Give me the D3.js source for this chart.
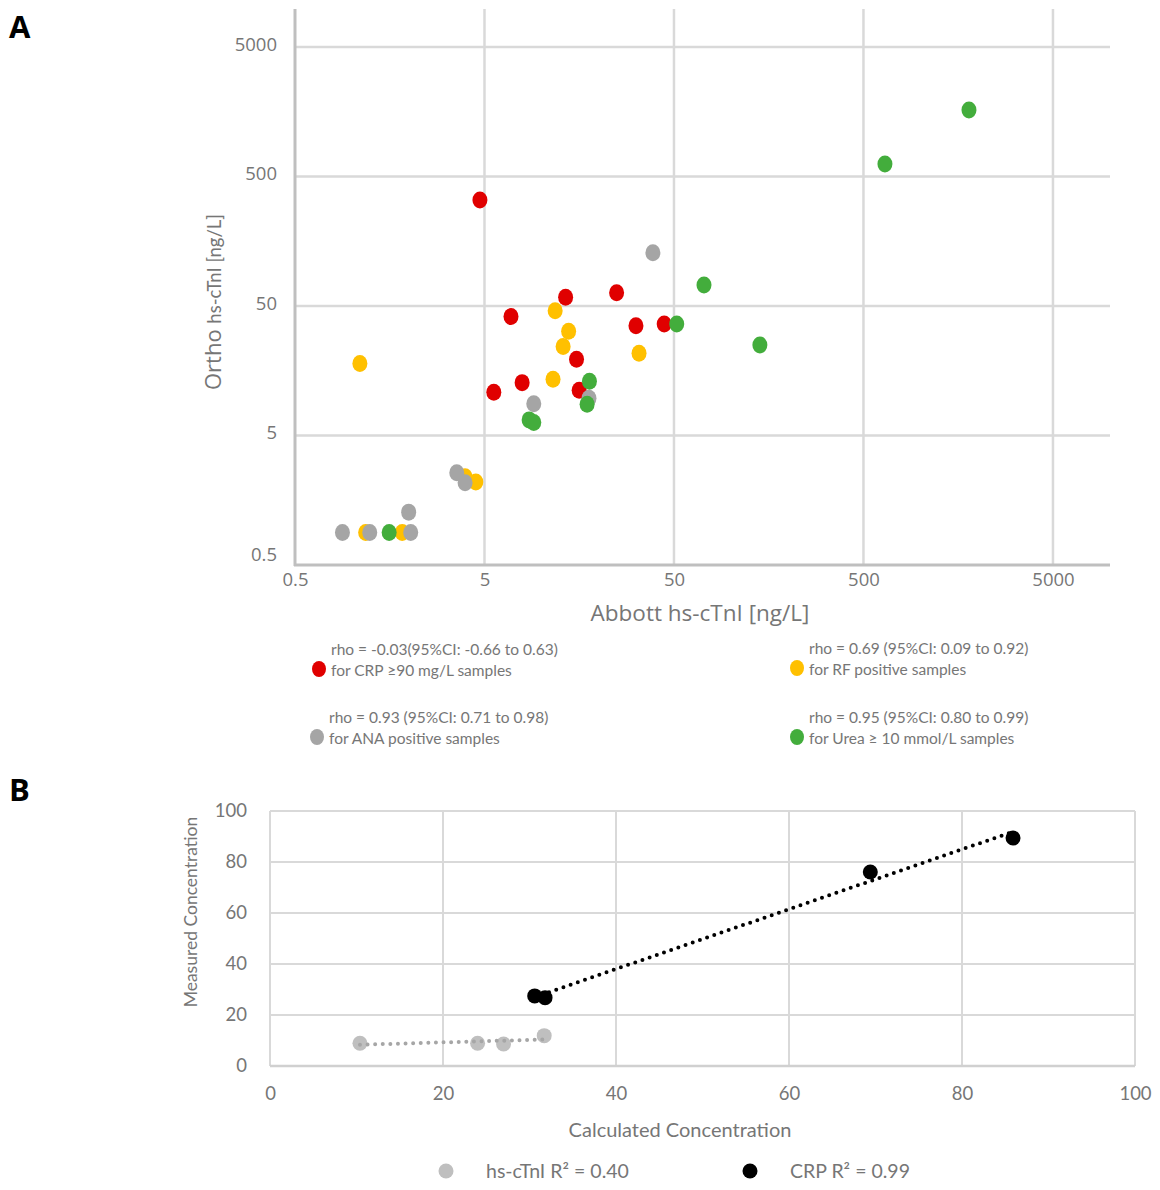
<!DOCTYPE html>
<html>
<head>
<meta charset="utf-8">
<script src="https://cdn.jsdelivr.net/npm/d3@7"></script>
<style>
  body { margin: 0; background: #fff; }
  text { font-family: Lato, "Open Sans", sans-serif; }
</style>
</head>
<body>
<script>
// panel A values (log-log)
var aTicks = [0.5, 5, 50, 500, 5000];
var aGrid = [5, 50, 500, 5000];

var crpX = [4.73, 13.4, 24.9, 6.9, 31.5, 44.4, 15.3, 7.9, 5.6, 15.8];
var crpY = [329, 58.4, 63.4, 41.4, 35.2, 36.3, 19.4, 12.8, 10.8, 11.2];
var rfX = [1.1, 11.8, 13.9, 13.0, 32.7, 11.5, 4.5, 3.95, 1.18, 1.84];
var rfY = [18.0, 46, 31.9, 24.3, 21.6, 13.6, 2.19, 2.4, 0.89, 0.89];
var anaX = [38.7, 9.1, 17.8, 3.57, 3.95, 1.99, 0.89, 1.24, 2.04];
var anaY = [129, 8.8, 9.7, 2.58, 2.16, 1.28, 0.89, 0.89, 0.89];
var ureaX = [72, 51.7, 17.9, 17.4, 8.6, 9.1, 1.57, 142, 649, 1802];
var ureaY = [72.6, 36.3, 13.1, 8.7, 6.6, 6.3, 0.89, 25, 625, 1632];

var aLegendTop = ['rho = -0.03(95%CI: -0.66 to 0.63)', 'rho = 0.69 (95%CI: 0.09 to 0.92)',
                  'rho = 0.93 (95%CI: 0.71 to 0.98)', 'rho = 0.95 (95%CI: 0.80 to 0.99)'];
var aLegendBottom = ['for CRP \u226590 mg/L samples', 'for RF positive samples',
                     'for ANA positive samples', 'for Urea \u2265 10 mmol/L samples'];
var aColors = ['#e00000', '#ffc000', '#a5a5a5', '#43ad3c'];

// panel B values (linear)
var bTicks = [0, 20, 40, 60, 80, 100];
var tnX = [10.4, 24.0, 27.0, 31.7];
var tnY = [8.9, 8.9, 8.6, 11.9];
var crpCalcX = [30.6, 31.8, 69.4, 85.9];
var crpMeasY = [27.5, 26.8, 76.1, 89.4];
var bLegend = ['hs-cTnI R\u00b2 = 0.40', 'CRP R\u00b2 = 0.99'];
var bColors = ['#bfbfbf', '#000000'];

var svg = d3.select('body').append('svg')
  .attr('width', 1160)
  .attr('height', 1190);

// ---------- A ----------
var xA = d3.scaleLog().domain([0.5, 10000]).range([295, 1110]);
var yA = d3.scaleLog().domain([0.5, 10000]).range([565, 8]);

svg.append('text').attr('x', 9).attr('y', 38)
  .style('font-family', '"Open Sans", sans-serif')
  .style('font-weight', 700).style('font-size', '31px').text('A');

var gA = svg.append('g');

gA.selectAll('line.vgrid').data(aGrid).enter().append('line')
  .attr('class', 'vgrid')
  .attr('x1', function(d) { return xA(d); }).attr('x2', function(d) { return xA(d); })
  .attr('y1', 9).attr('y2', 565)
  .style('stroke', '#d9d9d9').style('stroke-width', 2.5);

gA.selectAll('line.hgrid').data(aGrid).enter().append('line')
  .attr('class', 'hgrid')
  .attr('y1', function(d) { return yA(d); }).attr('y2', function(d) { return yA(d); })
  .attr('x1', 295).attr('x2', 1110)
  .style('stroke', '#d9d9d9').style('stroke-width', 2.5);

// axes (d3 axis, then restyled to look like excel)
var axAx = gA.append('g').attr('transform', 'translate(0,565)')
  .call(d3.axisBottom(xA).tickValues(aTicks).tickFormat(d3.format('')).tickSize(0).tickPadding(8));
var axAy = gA.append('g').attr('transform', 'translate(295,0)')
  .call(d3.axisLeft(yA).tickValues(aTicks).tickFormat(d3.format('')).tickSize(0).tickPadding(18));
axAx.select('.domain').remove();
axAy.select('.domain').remove();
[axAx, axAy].forEach(function(ax) {
  ax.selectAll('text')
    .style('font-family', '"Open Sans", sans-serif')
    .style('font-size', '18.5px').style('fill', '#767676');
});
axAy.selectAll('text').attr('dy', function(d) { return d === 0.5 ? '-0.25em' : '0.18em'; });

gA.append('line').attr('x1', 295).attr('x2', 295).attr('y1', 9).attr('y2', 566)
  .style('stroke', '#bfbfbf').style('stroke-width', 3);
gA.append('line').attr('x1', 294).attr('x2', 1110).attr('y1', 565).attr('y2', 565)
  .style('stroke', '#bfbfbf').style('stroke-width', 3);

var aSeries = [[crpX, crpY], [rfX, rfY], [anaX, anaY], [ureaX, ureaY]];
aSeries.forEach(function(s, k) {
  var pts = s[0].map(function(v, i) { return [v, s[1][i]]; });
  gA.selectAll('ellipse.s' + k).data(pts).enter().append('ellipse')
    .attr('class', 's' + k)
    .attr('cx', function(d) { return xA(d[0]); })
    .attr('cy', function(d) { return yA(d[1]); })
    .attr('rx', 7.5).attr('ry', 8.5)
    .style('fill', aColors[k]);
});

gA.append('text').attr('x', 700).attr('y', 621)
  .attr('text-anchor', 'middle')
  .style('font-family', '"Open Sans", sans-serif')
  .style('font-size', '22.5px').style('fill', '#767676')
  .text('Abbott hs-cTnI [ng/L]');

var yTitle = gA.append('text')
  .attr('transform', 'translate(221,302) rotate(-90)')
  .attr('text-anchor', 'middle')
  .style('fill', '#767676');
yTitle.append('tspan').style('font-family', '"Open Sans", sans-serif').style('font-size', '22px').text('Ortho ');
yTitle.append('tspan').style('font-size', '18.5px').text('hs-cTnI [ng/L]');

// legend A
var legPos = [[319, 669], [797, 668], [317, 737], [797, 737]];
var legA = gA.selectAll('g.leg').data(legPos).enter().append('g')
  .attr('class', 'leg')
  .attr('transform', function(d) { return 'translate(' + d[0] + ',' + d[1] + ')'; });
legA.append('ellipse').attr('rx', 7).attr('ry', 8)
  .style('fill', function(d, i) { return aColors[i]; });
legA.append('text').attr('x', 12).attr('y', -14)
  .style('font-size', '15.5px').style('fill', '#767676')
  .text(function(d, i) { return aLegendTop[i]; });
legA.append('text').attr('x', 12).attr('y', 7)
  .style('font-size', '15.5px').style('fill', '#767676')
  .text(function(d, i) { return aLegendBottom[i]; });

// ---------- B ----------
var xB = d3.scaleLinear().domain([0, 100]).range([270, 1135]);
var yB = d3.scaleLinear().domain([0, 100]).range([1066, 811]);

svg.append('text').attr('x', 9).attr('y', 801)
  .style('font-family', '"Open Sans", sans-serif')
  .style('font-weight', 700).style('font-size', '31px').text('B');

var gB = svg.append('g');

gB.selectAll('line.vgrid').data(bTicks.slice(1)).enter().append('line')
  .attr('class', 'vgrid')
  .attr('x1', function(d) { return xB(d); }).attr('x2', function(d) { return xB(d); })
  .attr('y1', yB(100)).attr('y2', yB(0))
  .style('stroke', '#d9d9d9').style('stroke-width', 2);
gB.selectAll('line.hgrid').data(bTicks.slice(1)).enter().append('line')
  .attr('class', 'hgrid')
  .attr('y1', function(d) { return yB(d); }).attr('y2', function(d) { return yB(d); })
  .attr('x1', xB(0)).attr('x2', xB(100))
  .style('stroke', '#d9d9d9').style('stroke-width', 2);
gB.append('line').attr('x1', xB(0)).attr('x2', xB(0)).attr('y1', yB(100)).attr('y2', yB(0))
  .style('stroke', '#d9d9d9').style('stroke-width', 2);
gB.append('line').attr('x1', xB(0)).attr('x2', xB(100)).attr('y1', yB(0)).attr('y2', yB(0))
  .style('stroke', '#d0d0d0').style('stroke-width', 2.5);

var axBx = gB.append('g').attr('transform', 'translate(0,' + yB(0) + ')')
  .call(d3.axisBottom(xB).tickValues(bTicks).tickSize(0).tickPadding(21));
var axBy = gB.append('g').attr('transform', 'translate(' + xB(0) + ',0)')
  .call(d3.axisLeft(yB).tickValues(bTicks).tickSize(0).tickPadding(23));
axBx.select('.domain').remove();
axBy.select('.domain').remove();
[axBx, axBy].forEach(function(ax) {
  ax.selectAll('text').style('font-family', 'Lato, sans-serif')
    .style('font-size', '18.5px').style('fill', '#767676');
});

// linear trendlines (least squares on the points)
function fitLine(xs, ys) {
  var mx = d3.mean(xs), my = d3.mean(ys);
  var sxy = d3.sum(xs, function(v, i) { return (v - mx) * (ys[i] - my); });
  var sxx = d3.sum(xs, function(v) { return (v - mx) * (v - mx); });
  var b = sxy / sxx, a = my - b * mx;
  var x0 = d3.min(xs), x1 = d3.max(xs);
  return [[x0, a + b * x0], [x1, a + b * x1]];
}

var bSeries = [[tnX, tnY], [crpCalcX, crpMeasY]];
var trendColors = ['#a6a6a6', '#000000'];
var line = d3.line().x(function(d) { return xB(d[0]); }).y(function(d) { return yB(d[1]); });

bSeries.forEach(function(s, k) {
  var pts = s[0].map(function(v, i) { return [v, s[1][i]]; });
  gB.selectAll('circle.p' + k).data(pts).enter().append('circle')
    .attr('class', 'p' + k)
    .attr('cx', function(d) { return xB(d[0]); })
    .attr('cy', function(d) { return yB(d[1]); })
    .attr('r', 7.5)
    .style('fill', bColors[k]);
  gB.append('path').datum(fitLine(s[0], s[1]))
    .attr('d', line)
    .style('fill', 'none')
    .style('stroke', trendColors[k])
    .style('stroke-width', 4)
    .style('stroke-linecap', 'round')
    .style('stroke-dasharray', '0,7.6');
});

gB.append('text').attr('x', 680).attr('y', 1137)
  .attr('text-anchor', 'middle')
  .style('font-size', '20px').style('fill', '#767676')
  .text('Calculated Concentration');
gB.append('text')
  .attr('transform', 'translate(197,912) rotate(-90)')
  .attr('text-anchor', 'middle')
  .style('font-size', '17.5px').style('fill', '#767676')
  .text('Measured Concentration');

var legB = gB.selectAll('g.legb').data([[446, 1171], [750, 1171]]).enter().append('g')
  .attr('class', 'legb')
  .attr('transform', function(d) { return 'translate(' + d[0] + ',' + d[1] + ')'; });
legB.append('circle').attr('r', 7.5).style('fill', function(d, i) { return bColors[i]; });
legB.append('text').attr('x', 40).attr('y', 7)
  .style('font-size', '19.5px').style('fill', '#767676')
  .text(function(d, i) { return bLegend[i]; });
</script>
</body>
</html>
